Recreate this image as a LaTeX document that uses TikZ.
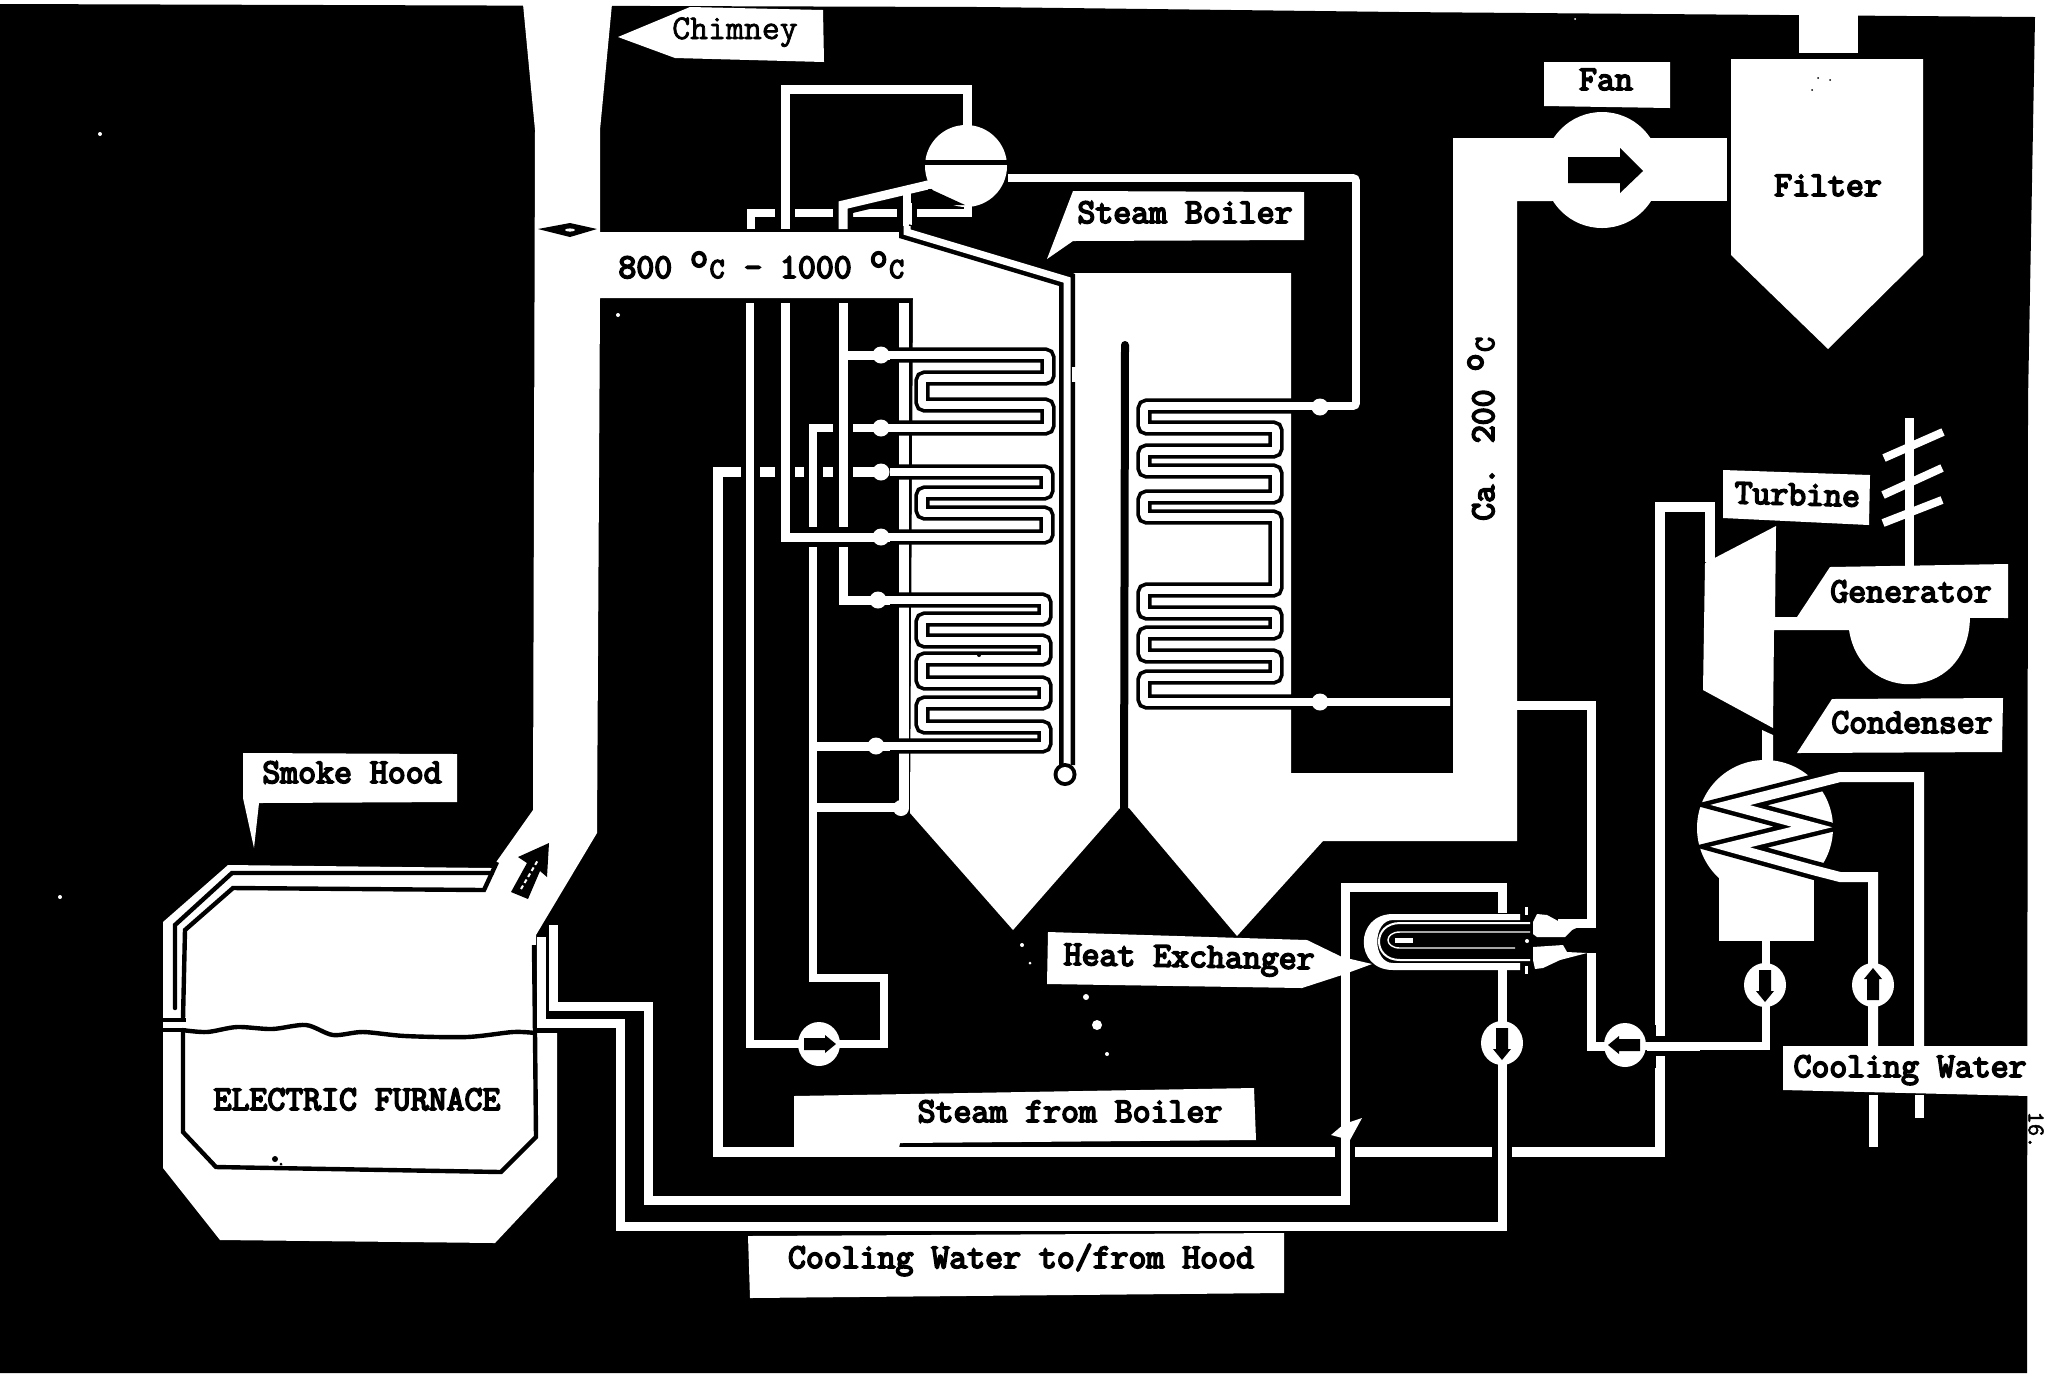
\documentclass[tikz,border=0pt]{standalone}
\usepackage{fontspec}
\newfontfamily\lblbold[FakeBold=5]{Latin Modern Mono}
\newfontfamily\lblmed[FakeBold=2]{Latin Modern Mono}
\newcommand{\degC}{\raisebox{5.5pt}{o}\makebox[9.13pt]{\fontsize{14.5}{14.5}\selectfont C}}
\newcommand{\pumpsym}[3]{%
  \fill[white] (#1,#2) ellipse [x radius=21, y radius=22];
  \begin{scope}[shift={(#1,#2)},rotate=#3]
    \fill[black] (-6,-15)--(6,-15)--(6,6)--(9,6)--(0,17)--(-9,6)--(-6,6)--cycle;
  \end{scope}}
\tikzset{
  wp/.style={draw=white,line width=4.5pt},
  wthin/.style={draw=white,line width=3.8pt},
  cp/.style={preaction={draw=black,line width=10pt},draw=white,line width=4.5pt},
  serp/.style={preaction={draw=black,line width=7.6pt,rounded corners=1.5pt},draw=white,line width=3.9pt,rounded corners=1.5pt},
  coil/.style={preaction={draw=black,line width=9.5pt,miter limit=10},draw=white,line width=5pt,miter limit=10},
  bk/.style={draw=black,line width=2.2pt},
  lbl/.style={font=\fontsize{17.4}{18}\selectfont\lblbold,text=black,inner sep=0pt,anchor=base},
  valve/.style={fill=white},
  boxw/.style={fill=white}
}
\begin{document}
\begin{tikzpicture}[x=0.5pt,y=-0.5pt,line join=miter]
\useasboundingbox (0,0) rectangle (2045,1373);
\fill[white] (0,0) rectangle (2045,1373);
\fill[black] (0,4)--(980,7)--(1400,12)--(2035,17)--(2028,400)--(2027,1373)--(0,1373)--cycle;

% flue, hood and furnace
\fill[white] (523,4)--(535,130)--(533,810)--(492,868)--(228,865)--(163,922)--(163,1168)--(220,1240)--(495,1243)--(557,1177)--(557,1033)--(536,1033)--(536,935)--(597,833)--(600,298)--(600,130)--(612,4)--cycle;
% gas passes and ducts
\fill[white] (590,232)--(901,232)--(1064,278)--(1075,273)--(1291,273)--(1291,773)--(1453,773)--(1453,138)--(1552,138)--(1552,201)--(1517,201)--(1517,841)--(1323,841)--(1237,936)--(1129,808)--(1120,808)--(1013,930)--(910,813)--(913,298)--(590,298)--cycle;
\fill[white] (1453,138) rectangle (1727,201);
\fill[white] (1602,170) circle (58);
\fill[black] (1568,157)--(1620,157)--(1620,148)--(1643,171)--(1620,193)--(1620,183)--(1568,183)--cycle;
% filter and stack
\fill[white] (1731,59)--(1923,59)--(1923,255)--(1828,349)--(1731,255)--cycle;
\fill[white] (1799,8) rectangle (1858,53);

% chimney damper
\fill[black] (538,229)--(570,223)--(597,229)--(570,237)--cycle;
\fill[white] (570,230) ellipse [x radius=5, y radius=1.6];

% furnace lines
\draw[bk,line cap=round] (492,873)--(232,873)--(175,925)--(175,1008);
\draw[bk] (497,862)--(484,890)--(233,888)--(185,930)--(183,1019);
\fill[black] (160,1018) rectangle (186,1022);
\fill[black] (160,1028) rectangle (186,1032);
\draw[bk,smooth] plot coordinates {(182,1030)(207,1032)(237,1027)(272,1029)(306,1025)(333,1035)(363,1032)(405,1036)(467,1037)(513,1032)(535,1033)};
\draw[bk] (183,1032)--(183,1132)--(216,1167)--(501,1172)--(536,1137)--(535,1033)--(534,945);
\draw[black,line width=1.5pt] (536,1030)--(557,1030);
% flue arrow
\fill[black] (549,843)--(547,877)--(540,871)--(528,899)--(511,892)--(527,863)--(518,857)--cycle;
\draw[white,line width=1pt,dash pattern=on 2pt off 1.5pt] (521,889)--(538,860);

% hood cooling pipes
\draw[wp] (553,925)--(553,1006)--(648,1006)--(648,1200)--(1345,1200)--(1345,887)--(1502,887)--(1502,913);
\draw[wp] (541,937)--(541,1023)--(620,1023)--(620,1226)--(1502,1226)--(1502,968);

% header pipe and steam line
\draw[draw=white,line width=5pt] (904,303)--(904,808);
\fill[white] (901,808) circle (8);
\draw[draw=white,line width=5pt] (881,472)--(718,472)--(718,1152)--(1660,1152)--(1660,507)--(1710,507)--(1710,562);
\draw[cp] (1345,1125)--(1345,1180);
\draw[cp] (1502,1125)--(1502,1180);
\draw[cp] (1660,1025)--(1660,1068);
\fill[white] (1331,1135)--(1344,1124)--(1362,1118)--(1350,1140)--cycle;

% first pass tube banks
\draw[serp] (890,355)--(1048,355)--(1048,378)--(922,378)--(922,405)--(1048,405)--(1048,428)--(890,428);
\draw[serp] (890,472)--(1047,472)--(1047,493)--(922,493)--(922,513)--(1047,513)--(1047,537)--(890,537);
\draw[serp] (890,600)--(1045,600)--(1045,619)--(922,619)--(922,641)--(1045,641)--(1045,659)--(922,659)--(922,683)--(1045,683)--(1045,703)--(922,703)--(922,727)--(1045,727)--(1045,746)--(890,746);

% risers
\draw[preaction={draw=black,line width=9.5pt},wthin] (890,428)--(813,428)--(813,978)--(884,978)--(884,1044)--(750,1044)--(750,303);
\draw[cp] (843,303)--(843,600)--(890,600);
\draw[cp] (785,303)--(785,537)--(890,537);
\draw[wp] (843,355)--(890,355);
\draw[wp] (813,746)--(890,746);
\draw[wp] (813,807)--(901,807);

% top pipes round the drum
\draw[wthin] (751,229)--(751,213)--(968,213)--(968,204);
\draw[cp] (785,229)--(785,89)--(967,89)--(967,128);
\draw[cp] (843,229)--(843,205)--(932,184);
\draw[wthin] (907,190)--(907,230);
\draw[cp] (907,203)--(907,225);
% drum
\fill[white] (966,166) circle (41);
\fill[black] (920,160) rectangle (1010,165);
\fill[black] (928,188)--(965,205)--(928,205)--cycle;
\draw[wthin] (925,186)--(945,181);
% long tube with end ring
\draw[preaction={draw=black,line width=8pt},draw=white,line width=3.5pt] (907,226)--(907,232)--(1067,280)--(1067,765);
\fill[white] (1072,367) rectangle (1077,382);
\fill[black] (1065,774.5) circle (11.5);
\fill[white] (1065,774.5) circle (7.5);
% baffle
\draw[black,line width=4pt] (1125,345)--(1124,815);
\fill[black] (1125,345) circle (4);

% second pass tube bank
\draw[serp] (1008,178)--(1356,178)--(1356,406)--(1144,406)--(1144,428)--(1276,428)--(1276,451)--(1144,451)--(1144,471)--(1276,471)--(1276,497)--(1144,497)--(1144,517)--(1276,517)--(1276,590)--(1144,590)--(1144,613)--(1276,613)--(1276,633)--(1144,633)--(1144,656)--(1276,656)--(1276,677)--(1144,677)--(1144,702)--(1450,702);

% valves
\foreach \vx/\vy in {881/355,881/428,881/472,881/537,878/600,876/746,1320/407,1320/702}
  \fill[valve] (\vx,\vy) circle (8.5);

% heat exchanger
\draw[wp] (1517,705)--(1591,705)--(1591,923)--(1558,923);
\draw[wp] (1591,953)--(1591,1046)--(1625,1046);
\fill[white] (1520,914)--(1393,914) .. controls (1354,914) and (1354,970) .. (1393,970)--(1520,970)--(1520,963)--(1393,963) .. controls (1372,963) and (1372,920) .. (1393,920)--(1520,920)--cycle;
\draw[draw=white,line width=1pt] (1530,923)--(1400,923) .. controls (1372,923) and (1372,960) .. (1400,960)--(1530,960);
\draw[draw=white,line width=.7pt] (1530,932)--(1400,932) .. controls (1384,932) and (1384,948) .. (1400,948)--(1515,948);
\fill[white] (1395,938) rectangle (1413,943);
\fill[white] (1533,922)--(1537,914)--(1547,915)--(1560,922)--(1587,923)--(1572,930)--(1565,937)--(1537,937)--(1533,934)--cycle;
\fill[white] (1533,947)--(1563,945)--(1567,952)--(1587,953)--(1560,960)--(1543,968)--(1535,969)--(1533,960)--cycle;
\fill[white] (1525,907) rectangle (1528,915);
\fill[white] (1525,966) rectangle (1528,974);
\fill[white] (1527,941) circle (2);

% turbine and generator
\fill[white] (1705,563)--(1776,526)--(1775,617)--(1850,617)--(1850,630)--(1774,630)--(1773,728)--(1703,690)--cycle;
\fill[white] (1848,616) .. controls (1848,707) and (1970,707) .. (1970,616)--cycle;
\draw[draw=white,line width=4.5pt] (1909,418)--(1909,566);
\draw[draw=white,line width=4pt] (1884,458)--(1943,432);
\draw[draw=white,line width=4pt] (1883,495)--(1942,468);
\draw[draw=white,line width=4pt] (1883,523)--(1942,500);

% condenser
\fill[white] (1762,730)--(1773,735)--(1773,762)--(1762,762)--cycle;
\fill[white] (1765,828) ellipse [x radius=68, y radius=68];
\fill[white] (1719,860) rectangle (1814,941);
\fill[black] (1814,874) rectangle (1850,941);
\draw[coil] (1919,1050)--(1919,777)--(1840,777)--(1730,805)--(1812,827)--(1730,847)--(1813,870)--(1840,877)--(1873,877)--(1873,1050);
\draw[wthin] (1766,941)--(1766,1046)--(1625,1046);
\draw[cp] (1647,1046)--(1700,1046);
\draw[wp] (1919,1095)--(1919,1118);
\draw[wp] (1873,1095)--(1873,1147);

% pumps
\pumpsym{819}{1044}{90}
\pumpsym{1502}{1043}{0}
\pumpsym{1625}{1045}{-90}
\pumpsym{1765}{985}{0}
\pumpsym{1873}{985}{180}

% label plates
\fill[boxw] (618,37)--(690,7)--(823,10)--(824,62)--(675,58)--cycle;
\fill[boxw] (1073,191)--(1304,192)--(1304,240)--(1073,241)--(1047,259)--cycle;
\fill[boxw] (243,753)--(457,754)--(457,802)--(259,803)--(254,848)--(243,798)--cycle;
\fill[boxw] (1544,62)--(1670,62)--(1670,108)--(1544,106)--cycle;
\fill[boxw] (1723,470)--(1870,475)--(1869,525)--(1723,518)--cycle;
\fill[boxw] (1830,567)--(2008,564)--(2008,618)--(1797,617)--cycle;
\fill[boxw] (1832,699)--(2003,698)--(2002,752)--(1797,753)--cycle;
\fill[boxw] (1783,1046)--(2028,1046)--(2030,1096)--(1783,1090)--cycle;
\fill[boxw] (794,1096)--(1254,1088)--(1256,1140)--(900,1143)--(899,1148)--(794,1150)--cycle;
\fill[boxw] (748,1236)--(1284,1233)--(1284,1293)--(750,1298)--cycle;
\fill[boxw] (1048,932)--(1307,940)--(1342,957)--(1372,964)--(1342,975)--(1302,988)--(1047,984)--cycle;
\draw[draw=white,line width=4.5pt] (1345,950)--(1345,985);

% texts
\node[lbl,font=\fontsize{17.4}{18}\selectfont\lblmed] (tChimney) at (735,39) {Chimney};
\node[lbl] (tBoiler) at (1185,223) {Steam Boiler};
\node[lbl] (tHood) at (352,783) {Smoke Hood};
\node[lbl] (tFurnace) at (357,1110) {ELECTRIC FURNACE};
\node[lbl] (tFan) at (1606,90) {Fan};
\node[lbl] (tFilter) at (1828,196) {Filter};
\node[lbl,anchor=base west] (tHot) at (618,278) {800 \degC{} - 1000 \degC};
\node[lbl,rotate=90] (tCa) at (1494,428) {Ca. 200 \degC};
\node[lbl,rotate=-1.5] (tTurbine) at (1797,505) {Turbine};
\node[lbl] (tGenerator) at (1911,602) {Generator};
\node[lbl] (tCondenser) at (1912,733) {Condenser};
\node[lbl] (tCooling) at (1910,1077) {Cooling Water};
\node[lbl] (tSteam) at (1070,1122) {Steam from Boiler};
\node[lbl] (tToFrom) at (1021,1268) {Cooling Water to/from Hood};
\node[lbl,rotate=-1] (tExchanger) at (1189,967) {Heat Exchanger};
\node[lbl,anchor=center,rotate=-90,font=\fontsize{12}{12}\selectfont\lblmed] (tPage) at (2036,1130) {16.};

% specks
\foreach \sx/\sy/\sr in {100/134/2,60/897/2,618/315/2,1575/19/1,1022/945/2,1030/963/1.5,1086/997/3,1097/1025/5,1107/1054/2}
  \fill[white] (\sx,\sy) circle (\sr);
\foreach \sx/\sy/\sr in {275/1159/3,281/1164/1.5,520/61/1,1818/78/1,1812/90/1,1830/80/1,979/655/2}
  \fill[black] (\sx,\sy) circle (\sr);
\end{tikzpicture}
\end{document}
